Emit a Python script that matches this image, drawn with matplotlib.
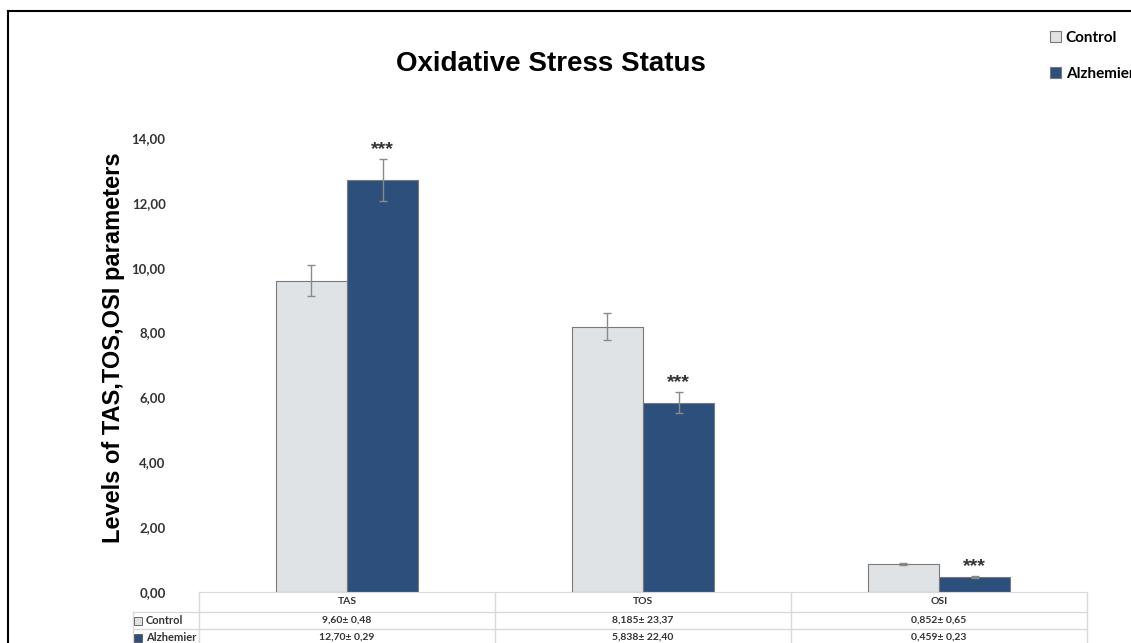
#
#  Oxidative stress status: TAS, TOS, OSI in control vs Alzheimer groups
#

import numpy as np
import matplotlib.pylab as plt
from matplotlib.transforms import blended_transform_factory
from matplotlib.lines import Line2D

params = ["TAS", "TOS", "OSI"]
groups = ["Control", "Alzhemier"]
control = [9.60, 8.185, 0.852]
alzheimer = [12.70, 5.838, 0.459]
control_err = [0.48, 0.42, 0.03]
alzheimer_err = [0.65, 0.32, 0.02]
control_txt = ["9,60\u00b1 0,48", "8,185\u00b1 23,37", "0,852\u00b1 0,65"]
alzheimer_txt = ["12,70\u00b1 0,29", "5,838\u00b1 22,40", "0,459\u00b1 0,23"]
stars = ["***", "***", "***"]
yticks = [0, 2, 4, 6, 8, 10, 12, 14]

c_light = "#dfe3e6"
c_dark = "#2d4f7c"
edge = "#7a7a7a"
tfont = ["Lato", "DejaVu Sans"]
afont = ["Liberation Sans", "DejaVu Sans"]

fig = plt.figure(figsize=(11.31, 6.43), dpi=100)
W, H = 1131, 643
ax = fig.add_axes([199/W, 1 - 592/H, 888/W, 454/H])

x = np.arange(len(params))
w = 0.24
ax.bar(x - w/2, control, w, color=c_light, edgecolor=edge, linewidth=0.8, label=groups[0])
ax.bar(x + w/2, alzheimer, w, color=c_dark, edgecolor=edge, linewidth=0.8, label=groups[1])
ax.errorbar(x - w/2, control, yerr=control_err, fmt="none", ecolor="#8a8a8a",
            elinewidth=1, capsize=3, capthick=1)
ax.errorbar(x + w/2, alzheimer, yerr=alzheimer_err, fmt="none", ecolor="#8a8a8a",
            elinewidth=1, capsize=3, capthick=1)

for i in range(len(params)):
    ax.text(x[i] + w/2, alzheimer[i] + alzheimer_err[i] + 0.3, stars[i],
            ha="center", va="center", fontsize=14, fontweight="bold",
            color="#333333", family=afont)

ax.set_xlim(-0.5, 2.5)
ax.set_ylim(0, 14)
ax.set_yticks(yticks)
ax.set_yticklabels([("%.2f" % v).replace(".", ",") for v in yticks], fontsize=9.5,
                   fontweight="bold", color="#333333", family=tfont)
ax.tick_params(axis="y", length=0, pad=24)
ax.set_xticks([])
for s in ["top", "right", "left"]:
    ax.spines[s].set_visible(False)
ax.spines["bottom"].set_color("#d9d9d9")

ax.set_ylabel("Levels of TAS,TOS,OSI parameters", fontsize=17, fontweight="bold",
              family=afont)
ax.yaxis.set_label_coords(-0.083, 0.539)
fig.text(551/W, 1 - 64/H, "Oxidative Stress Status", ha="center", va="center",
         fontsize=20, fontweight="bold", family=afont)

#  Data table under the axis
trans = blended_transform_factory(ax.transData, ax.transAxes)
gl = "#d9d9d9"
rows = [0, -20/454, -37/454, -54/454]
lab_left = -0.5 - 66/296
for r in rows[1:]:
    ax.add_line(Line2D([lab_left, 2.5], [r, r], transform=trans, color=gl, lw=1, clip_on=False))
for xv in [-0.5, 0.5, 1.5, 2.5]:
    ax.add_line(Line2D([xv, xv], [rows[0], rows[-1]], transform=trans, color=gl, lw=1, clip_on=False))
ax.add_line(Line2D([lab_left, lab_left], [rows[1], rows[-1]], transform=trans, color=gl, lw=1, clip_on=False))

for i in range(len(params)):
    ax.text(x[i], (rows[0] + rows[1])/2, params[i], transform=trans, ha="center", va="center",
            fontsize=7.5, fontweight="bold", color="#333333", family=tfont)
    ax.text(x[i], (rows[1] + rows[2])/2, control_txt[i], transform=trans, ha="center", va="center",
            fontsize=7.5, fontweight="bold", color="#333333", family=tfont)
    ax.text(x[i], (rows[2] + rows[3])/2, alzheimer_txt[i], transform=trans, ha="center", va="center",
            fontsize=7.5, fontweight="bold", color="#333333", family=tfont)

for k, col in enumerate([c_light, c_dark]):
    yy = (rows[k+1] + rows[k+2])/2
    ax.plot([lab_left + 0.018], [yy], marker="s", ms=5.5, mfc=col, mec="#555555", mew=0.6,
            transform=trans, clip_on=False)
    ax.text(lab_left + 0.043, yy, groups[k], transform=trans, ha="left", va="center",
            fontsize=8, fontweight="bold", color="#333333", family=tfont)

#  Legend in the top right corner
leg = fig.legend(loc="upper left", bbox_to_anchor=(1036/W, 1 - 17/H), frameon=False,
                 handlelength=0.75, handleheight=0.75, handletextpad=0.3, labelspacing=1.45,
                 prop={"family": tfont, "weight": "bold", "size": 11})

#  Frame around the figure
fig.add_artist(Line2D([8/W, 8/W], [0, 1 - 11/H], color="k", lw=1.5))
fig.add_artist(Line2D([8/W, 1], [1 - 11/H, 1 - 11/H], color="k", lw=1.5))

plt.savefig("out.png", dpi=100)
plt.close()
